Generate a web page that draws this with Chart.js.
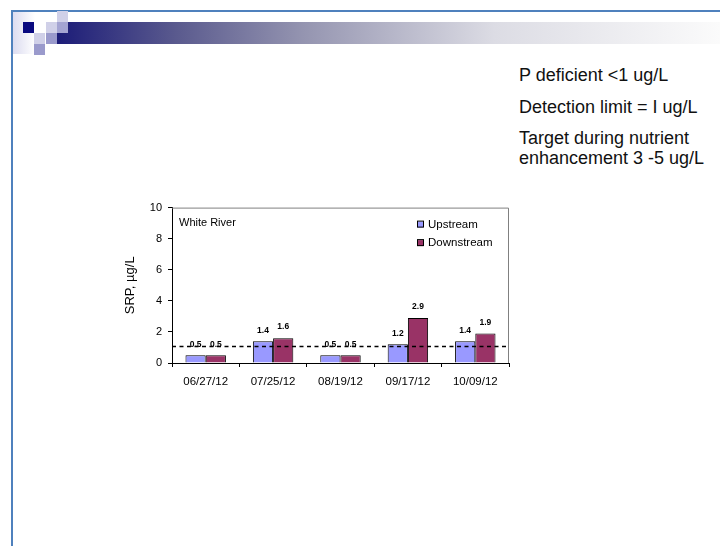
<!DOCTYPE html>
<html>
<head>
<meta charset="utf-8">
<script src="https://cdn.jsdelivr.net/npm/chart.js@4/dist/chart.umd.min.js"></script>
<style>
  body { margin: 0; background: #fff; width: 720px; height: 546px; overflow: hidden; position: relative; font-family: "Liberation Sans", Arial, sans-serif; }
  .abs { position: absolute; }
  #topline { left: 11px; top: 10px; width: 709px; height: 2px; background: #4f81bd; }
  #leftline { left: 11px; top: 10px; width: 2px; height: 536px; background: #4f81bd; }
  #fade { left: 13px; top: 12px; width: 22px; height: 42px; background: linear-gradient(to right, #dcdcf0, #ffffff); }
  #bar { left: 57px; top: 22px; width: 663px; height: 22px;
         background: linear-gradient(to right, #1c1c78 0%, #5a5a8e 18%, #9494b0 37%, #dcdce4 66%, #fbfbfb 100%); }
  .sq { width: 11px; height: 11px; }
  #notes { left: 519px; top: 65px; color: #111; font-size: 18px; line-height: 20px; letter-spacing: 0; }
  #notes p { margin: 0 0 11.5px 0; }
  #wrap { left: 120px; top: 195px; width: 400px; height: 200px; }
</style>
</head>
<body>
<div class="abs" id="topline"></div>
<div class="abs" id="leftline"></div>
<div class="abs" id="fade"></div>
<div class="abs" id="bar"></div>
<div class="abs sq" style="left:23px;top:22px;background:#0a0a80"></div>
<div class="abs sq" style="left:57px;top:11px;background:#d0d0e8"></div>
<div class="abs sq" style="left:46px;top:22px;background:#d0d0e8"></div>
<div class="abs sq" style="left:57px;top:22px;background:#a4a4d2"></div>
<div class="abs sq" style="left:34px;top:33px;background:#d0d0e8"></div>
<div class="abs sq" style="left:46px;top:33px;background:#9a9acc"></div>
<div class="abs sq" style="left:34px;top:44px;background:#9a9acc"></div>

<div class="abs" id="notes">
  <p>P deficient &lt;1 ug/L</p>
  <p>Detection limit = I ug/L</p>
  <p>Target during nutrient<br>enhancement 3 -5 ug/L</p>
</div>

<div class="abs" id="wrap"><canvas id="chart" width="400" height="200"></canvas></div>

<script>
// 数据
const dates = ['06/27/12', '07/25/12', '08/19/12', '09/17/12', '10/09/12'];
const upstream = [0.5, 1.4, 0.5, 1.2, 1.4];
const downstream = [0.5, 1.6, 0.5, 2.9, 1.9];
const upLabels = ['0.5', '1.4', '0.5', '1.2', '1.4'];
const downLabels = ['0.5', '1.6', '0.5', '2.9', '1.9'];
const detectionLimit = 1.1;
const yTicks = [0, 2, 4, 6, 8, 10];

const seriesNames = ['Upstream', 'Downstream'];
const seriesColors = ['#9999ff', '#993366'];

const FONT = '"Liberation Sans", Arial';

// 画框、虚线、数值标签和图例
const extras = {
    id: 'extras',
    afterDatasetsDraw(chart) {
        const ctx = chart.ctx;
        const area = chart.chartArea;
        const y = chart.scales.y;

        ctx.save();
        // 灰色上边框和右边框
        ctx.strokeStyle = '#808080';
        ctx.lineWidth = 1;
        ctx.beginPath();
        ctx.moveTo(area.left, area.top + 0.5);
        ctx.lineTo(area.right - 0.5, area.top + 0.5);
        ctx.lineTo(area.right - 0.5, area.bottom);
        ctx.stroke();

        // 检测限虚线
        const yl = Math.round(y.getPixelForValue(detectionLimit)) + 0.5;
        ctx.strokeStyle = '#000';
        ctx.lineWidth = 1.3;
        ctx.setLineDash([4, 3.5]);
        ctx.beginPath();
        ctx.moveTo(area.left, yl);
        ctx.lineTo(area.right, yl);
        ctx.stroke();
        ctx.setLineDash([]);
        ctx.lineWidth = 1;

        // 数值标签
        ctx.fillStyle = '#000';
        ctx.font = 'bold 8.5px ' + FONT;
        ctx.textAlign = 'center';
        ctx.textBaseline = 'middle';
        const lbls = [upLabels, downLabels];
        chart.data.datasets.forEach((ds, di) => {
            chart.getDatasetMeta(di).data.forEach((el, i) => {
                ctx.fillText(lbls[di][i], el.x, el.y - 11);
            });
        });

        // 河名
        ctx.font = '11px ' + FONT;
        ctx.textAlign = 'left';
        ctx.fillText('White River', area.left + 7, area.top + 15);

        // 图例
        ctx.font = '11.5px ' + FONT;
        seriesNames.forEach((name, i) => {
            const ly = area.top + 17 + i * 18.5;
            const lx = area.right - 92;
            ctx.fillStyle = seriesColors[i];
            ctx.fillRect(lx, ly - 3, 6, 6);
            ctx.strokeStyle = '#000';
            ctx.strokeRect(lx + 0.5, ly - 3.5, 6, 6);
            ctx.fillStyle = '#000';
            ctx.fillText(name, lx + 11, ly);
        });
        ctx.restore();
    }
};

new Chart(document.getElementById('chart').getContext('2d'), {
    type: 'bar',
    data: {
        labels: dates,
        datasets: seriesNames.map((name, i) => ({
            label: name,
            data: i === 0 ? upstream : downstream,
            backgroundColor: seriesColors[i],
            borderColor: '#000',
            borderWidth: 1,
            categoryPercentage: 0.6,
            barPercentage: 1.0
        }))
    },
    options: {
        responsive: false,
        animation: false,
        layout: { padding: { top: 12, right: 11, left: 0, bottom: 0 } },
        plugins: { legend: { display: false }, tooltip: { enabled: false } },
        scales: {
            x: {
                afterFit(s) { s.height = 32; },
                grid: { drawOnChartArea: false, tickLength: 4, color: '#000', offset: true },
                border: { color: '#000', width: 1 },
                ticks: { color: '#000', font: { family: FONT, size: 11.5 }, padding: 8 }
            },
            y: {
                min: 0,
                max: 10,
                afterFit(s) { s.width = 52; },
                afterBuildTicks(s) { s.ticks = yTicks.map(v => ({ value: v })); },
                grid: { drawOnChartArea: false, tickLength: 4, color: '#000' },
                border: { color: '#000', width: 1 },
                ticks: { color: '#000', font: { family: FONT, size: 11 }, padding: 6 },
                title: { display: true, text: 'SRP, µg/L', color: '#000', font: { family: FONT, size: 13 }, padding: { top: 3, bottom: 0 } }
            }
        }
    },
    plugins: [extras]
});
</script>
</body>
</html>
